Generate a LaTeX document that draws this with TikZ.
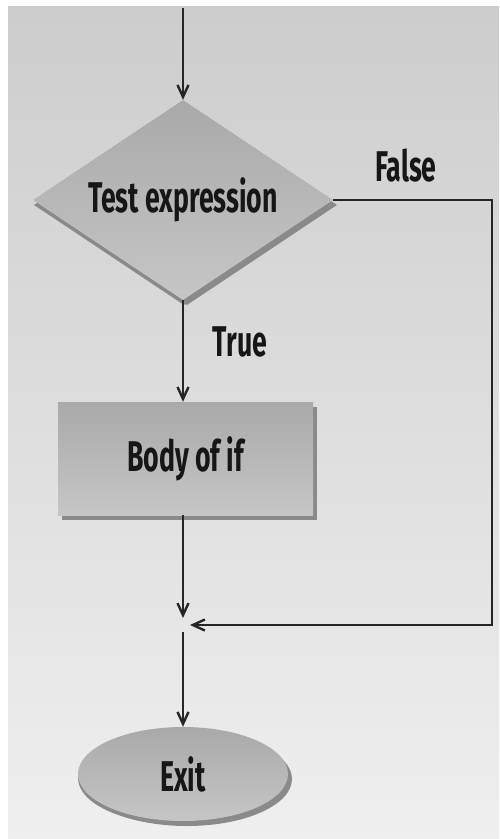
\documentclass[tikz,border=0pt]{standalone}
\usepackage{fontspec}
\newfontfamily\labelfont[FakeStretch=0.62]{Fira Sans}
\usetikzlibrary{shapes.geometric,arrows.meta,calc,shadows}
\definecolor{panelTop}{HTML}{CDCDCD}
\definecolor{panelBot}{HTML}{EFEFEF}
\definecolor{shapeTop}{HTML}{A9A9A9}
\definecolor{shapeBot}{HTML}{C6C6C6}
\definecolor{shapeEdge}{HTML}{8A8A8A}
\definecolor{ink}{HTML}{262626}
\definecolor{txt}{HTML}{161616}
\begin{document}
\begin{tikzpicture}[x=1pt,y=-1pt,
  lbl/.style={font=\labelfont\bfseries\fontsize{43}{43}\selectfont, text=txt},
  solid3d/.style={lbl, top color=shapeTop, bottom color=shapeBot, draw=none,
    drop shadow={shadow xshift=4pt, shadow yshift=-5pt, fill=shapeEdge, opacity=1}},
  flow/.style={draw=ink, line width=2.4pt, -{Straight Barb[length=12pt,width=11pt,line width=2.4pt]}}]
  \useasboundingbox (0,0) rectangle (499,839);
  % backdrop
  \path[top color=panelTop, bottom color=panelBot] (8,6) rectangle (499,839);

  \coordinate (start) at (183,8);
  \node[solid3d, shape=diamond, aspect=1.5, inner sep=0pt, minimum width=300pt, minimum height=200pt,
    drop shadow={shadow xshift=1pt, shadow yshift=-5pt, fill=shapeEdge, opacity=1}] (test) at (183,200) {Test expression};
  \node[solid3d, shape=rectangle, minimum width=255pt, minimum height=113pt, inner sep=0pt] (body) at (185.5,458.5) {Body of if};
  \node[solid3d, shape=ellipse, minimum width=210pt, minimum height=94pt, inner sep=0pt,
    drop shadow={shadow xshift=0pt, shadow yshift=-4pt, fill=shapeEdge, opacity=1}] (exit) at (183,774) {Exit};
  \coordinate (join) at (183,625);
  \coordinate (farright) at (492,200);

  \node[lbl, anchor=center] (falselbl) at (406,166) {False};
  \node[lbl, anchor=center] (truelbl) at (240,342) {True};

  \draw[flow] (start) -- (test.north);
  \draw[flow] (test.south) -- (body.north -| test.south);
  \draw[flow] (body.south -| test.south) -- ($(join)+(0,-7)$);
  \draw[flow] (test.east) -- (farright) |- ($(join)+(7,0)$);
  \draw[flow] ($(join)+(0,7)$) -- (exit.north);
\end{tikzpicture}
\end{document}
